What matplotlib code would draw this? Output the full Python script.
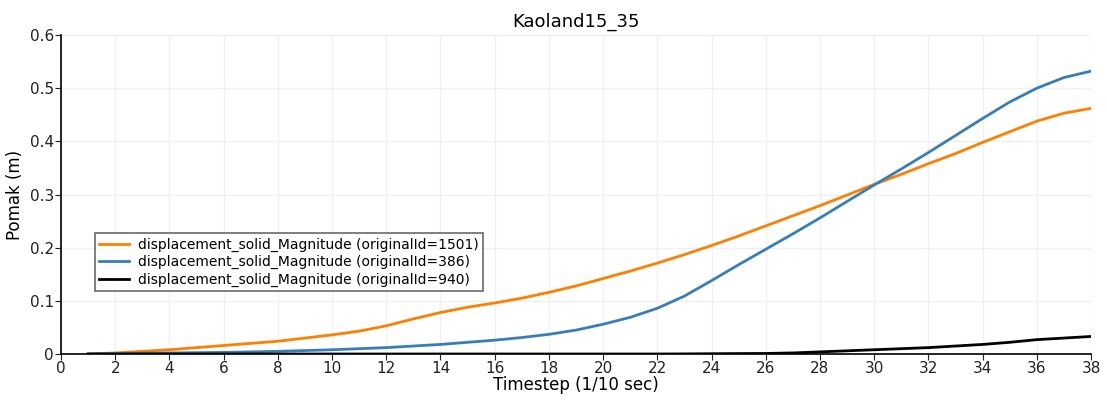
import numpy as np
import matplotlib
matplotlib.use("Agg")
import matplotlib.pyplot as plt

# timesteps and displacement magnitudes (m)
t = [1, 2, 4, 6, 8, 10, 11, 12, 13, 14, 15, 16, 17, 18, 19, 20, 21, 22, 23, 24,
     25, 26, 27, 28, 29, 30, 31, 32, 33, 34, 35, 36, 37, 38]
disp_1501 = [0.0, 0.002, 0.008, 0.016, 0.024, 0.036, 0.043, 0.053, 0.066, 0.078,
             0.088, 0.096, 0.105, 0.116, 0.128, 0.142, 0.156, 0.171, 0.187, 0.204,
             0.222, 0.241, 0.260, 0.279, 0.299, 0.319, 0.338, 0.358, 0.377, 0.398,
             0.418, 0.438, 0.453, 0.462]
disp_386 = [0.0, 0.001, 0.002, 0.003, 0.005, 0.008, 0.010, 0.012, 0.015, 0.018,
            0.022, 0.026, 0.031, 0.037, 0.045, 0.056, 0.069, 0.086, 0.109, 0.138,
            0.168, 0.197, 0.226, 0.256, 0.287, 0.318, 0.348, 0.379, 0.411, 0.443,
            0.474, 0.500, 0.520, 0.532]
disp_940 = [0.0, 0.0, 0.0, 0.0, 0.0, 0.0, 0.0, 0.0, 0.0, 0.0,
            0.0, 0.0, 0.0, 0.0, 0.0, 0.0, 0.0, 0.0, 0.0002, 0.0005,
            0.0008, 0.001, 0.002, 0.004, 0.006, 0.008, 0.010, 0.012, 0.015, 0.018,
            0.022, 0.027, 0.030, 0.033]

labels = ["displacement_solid_Magnitude (originalId=1501)",
          "displacement_solid_Magnitude (originalId=386)",
          "displacement_solid_Magnitude (originalId=940)"]
colors = ["#ff7f00", "#377eb8", "#000000"]

fig = plt.figure(figsize=(11.07, 4.01), dpi=100)
ax = fig.add_axes([0.0551, 0.1172, 0.9305, 0.7955])

for y, lab, c in zip([disp_1501, disp_386, disp_940], labels, colors):
    ax.plot(t, y, color=c, lw=2, label=lab)

ax.set_xlim(0, 38)
ax.set_ylim(0, 0.6)
ax.set_xticks(np.arange(0, 39, 2))
ax.set_yticks([0, 0.1, 0.2, 0.3, 0.4, 0.5, 0.6])
ax.set_yticklabels(["0", "0.1", "0.2", "0.3", "0.4", "0.5", "0.6"])
ax.grid(True, color="#f0f0f0", lw=1)
ax.set_axisbelow(True)
for s in ["top", "right"]:
    ax.spines[s].set_visible(False)
for s in ["left", "bottom"]:
    ax.spines[s].set_linewidth(1.2)
ax.tick_params(labelsize=11, colors="#222222", length=4, pad=1)

ax.set_title("Kaoland15_35", fontsize=13, pad=6)
ax.set_xlabel("Timestep (1/10 sec)", fontsize=12, labelpad=0)
ax.set_ylabel("Pomak (m)", fontsize=12, labelpad=4)

leg = ax.legend(loc="upper left", bbox_to_anchor=(0.026, 0.40), fontsize=10,
                frameon=True, fancybox=False, handlelength=2.2,
                borderpad=0.3, labelspacing=0.25, handletextpad=0.6)
leg.get_frame().set_edgecolor("#444444")
leg.get_frame().set_linewidth(1.2)

fig.savefig("out.png", dpi=100)
